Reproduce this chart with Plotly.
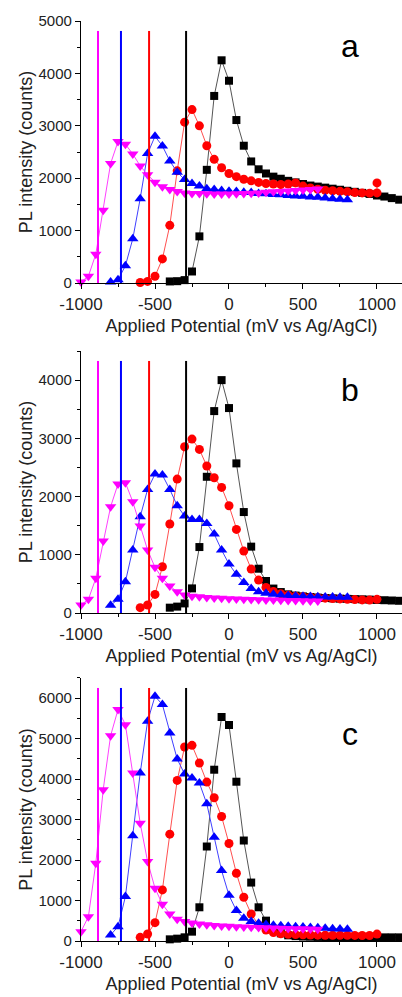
import plotly.graph_objs as go

# potentials (mV vs Ag/AgCl), 50 mV steps
x_black = list(range(-400, 1151, 50))
x_red = list(range(-600, 1001, 50)) + [1000]
x_blue = list(range(-800, 801, 50))
x_mag = list(range(-1000, 601, 50))

# panel a
a_black = [30, 35, 55, 220, 890, 2160, 3570, 4250, 3860, 3110, 2620, 2320, 2170, 2090, 2030, 1990,
           1950, 1920, 1890, 1860, 1840, 1820, 1800, 1780, 1760, 1740, 1720, 1700, 1670, 1650, 1620, 1590]
a_red = [10, 30, 130, 460, 1100, 2140, 3070, 3310, 3000, 2620, 2360, 2200, 2090, 2030, 1980, 1950,
         1920, 1900, 1890, 1880, 1890, 1910, 1850, 1815, 1790, 1770, 1760, 1750, 1740, 1725, 1720, 1715,
         1720, 1910]
a_blue = [20, 60, 330, 845, 1610, 2470, 2800, 2615, 2330, 2115, 1975, 1900, 1850, 1800, 1785, 1765,
          1750, 1745, 1730, 1725, 1710, 1705, 1690, 1685, 1670, 1660, 1655, 1640, 1635, 1620, 1610, 1600, 1590]
a_mag = [20, 130, 550, 1390, 2280, 2700, 2650, 2460, 2235, 2065, 1925, 1835, 1785, 1745, 1720, 1710,
         1710, 1705, 1700, 1700, 1700, 1705, 1710, 1715, 1720, 1730, 1740, 1745, 1755, 1765, 1775, 1785, 1795]

# panel b
b_black = [92, 110, 165, 423, 1133, 2340, 3468, 4000, 3520, 2570, 1734, 1140, 761, 550, 420, 360,
           320, 300, 285, 275, 265, 258, 252, 247, 243, 239, 235, 230, 225, 220, 215, 210]
b_red = [92, 137, 320, 795, 1528, 2300, 2855, 2987, 2810, 2524, 2323, 2157, 1843, 1436, 1064, 755,
         566, 440, 370, 330, 305, 290, 280, 270, 262, 255, 248, 242, 236, 230, 225, 222, 235]
b_blue = [132, 235, 538, 1082, 1654, 2123, 2386, 2369, 2123, 1843, 1665, 1608, 1608, 1539, 1356, 1082,
          841, 664, 526, 423, 366, 340, 322, 310, 300, 293, 288, 284, 280, 277, 274, 272, 270]
b_mag = [137, 235, 595, 1236, 1825, 2215, 2237, 1911, 1494, 1082, 784, 595, 464, 366, 309, 290,
         278, 268, 260, 253, 247, 242, 237, 233, 229, 225, 222, 219, 216, 213, 210, 207, 205]

# panel c
c_black = [41, 58, 91, 231, 833, 2335, 4233, 5536, 5338, 3936, 2483, 1444, 833, 503, 300, 190,
           140, 120, 110, 105, 100, 98, 96, 95, 94, 93, 92, 91, 90, 90, 90, 90]
c_red = [91, 173, 454, 1262, 2640, 3969, 4794, 4835, 4398, 3927, 3540, 3077, 2409, 1675, 1081, 668,
         396, 270, 210, 180, 165, 158, 152, 148, 145, 143, 141, 140, 139, 138, 137, 136, 170]
c_blue = [149, 355, 1097, 2599, 4150, 5429, 6048, 5842, 5140, 4497, 4125, 4026, 3903, 3391, 2566, 1741,
          1130, 751, 561, 479, 437, 410, 392, 378, 366, 355, 345, 335, 325, 315, 305, 297, 290]
c_mag = [231, 602, 1922, 3738, 5074, 5718, 5347, 4150, 2912, 1964, 1304, 908, 668, 536, 479, 445,
         420, 400, 385, 372, 362, 354, 347, 340, 334, 328, 322, 316, 310, 305, 300, 295, 290]

# onset potentials marked by vertical lines
onsets = [-885, -730, -540, -290]
onset_colors = ['#FF00FF', '#0000FF', '#FF0000', '#000000']

panel_labels = ['a', 'b', 'c']
label_y = [0.905, 0.851, 0.787]
y_max = [5000, 4500, 6500]
x_ticks = [-1000, -500, 0, 500, 1000]
x_ticktext = ['-1000', '-500', '0', '500', '1000']

FONT = 'Arial, Liberation Sans, sans-serif'
panels = [(a_black, a_red, a_blue, a_mag), (b_black, b_red, b_blue, b_mag), (c_black, c_red, c_blue, c_mag)]
domains = [[0.7152, 1.0], [0.3565, 0.6413], [0.0, 0.2859]]

series_style = [
    (x_black, 'square', 8, '#000000', '#555555'),
    (x_red, 'circle', 9, '#FF0000', '#FF5050'),
    (x_blue, 'triangle-up', 10, '#0000FF', '#4040FF'),
    (x_mag, 'triangle-down', 10, '#FF00FF', '#FF40FF'),
]

fig = go.Figure()
shapes = []
annotations = []
for i, data in enumerate(panels):
    n = '' if i == 0 else str(i + 1)
    for (xs, sym, sz, col, lcol), ys in zip(series_style, data):
        fig.add_trace(go.Scatter(x=xs, y=ys, mode='lines+markers', xaxis='x' + n, yaxis='y' + n,
                                 line=dict(color=lcol, width=1),
                                 marker=dict(symbol=sym, size=sz, color=col, line=dict(width=0)),
                                 showlegend=False, cliponaxis=False))
    for xv, col in zip(onsets, onset_colors):
        shapes.append(dict(type='line', xref='x' + n, yref='y' + n + ' domain', x0=xv, x1=xv,
                           y0=0, y1=0.962, line=dict(color=col, width=2)))
    annotations.append(dict(text=panel_labels[i], xref='x' + n, yref='y' + n + ' domain',
                            x=818, y=label_y[i], showarrow=False, xanchor='center', yanchor='middle',
                            font=dict(size=32, color='#000000', family=FONT)))
    common = dict(showline=True, linecolor='#000000', linewidth=1.2, ticks='outside', ticklen=5,
                  tickcolor='#000000', showgrid=False, zeroline=False, mirror=False, automargin=False)
    fig.update_layout(**{
        'xaxis' + n: dict(range=[-1000, 1169], tickvals=x_ticks, ticktext=x_ticktext,
                          anchor='y' + n, domain=[0, 1],
                          tickfont=dict(size=17, color='#222222', family=FONT),
                          minor=dict(dtick=250, tick0=0, ticks='outside', ticklen=3, tickcolor='#000000'),
                          title=dict(text='Applied Potential (mV vs Ag/AgCl)', standoff=6,
                                     font=dict(size=18, color='#222222', family=FONT)),
                          **common),
        'yaxis' + n: dict(range=[0, y_max[i]], dtick=1000, anchor='x' + n, domain=domains[i],
                          tickfont=dict(size=15, color='#222222', family=FONT),
                          minor=dict(dtick=500, ticks='outside', ticklen=3, tickcolor='#000000'),
                          title=dict(text='PL intensity (counts)', standoff=1,
                                     font=dict(size=18, color='#222222', family=FONT)),
                          **common),
    })

fig.update_layout(width=402, height=997, margin=dict(l=81, r=0, t=21, b=56, autoexpand=False),
                  plot_bgcolor='white', paper_bgcolor='white',
                  shapes=shapes, annotations=annotations, font=dict(family=FONT))
# drop the default page margin so the figure sits at the window's corner
fig.write_html('out.html', config={'displayModeBar': False},
               post_script="document.body.style.margin='0';")
